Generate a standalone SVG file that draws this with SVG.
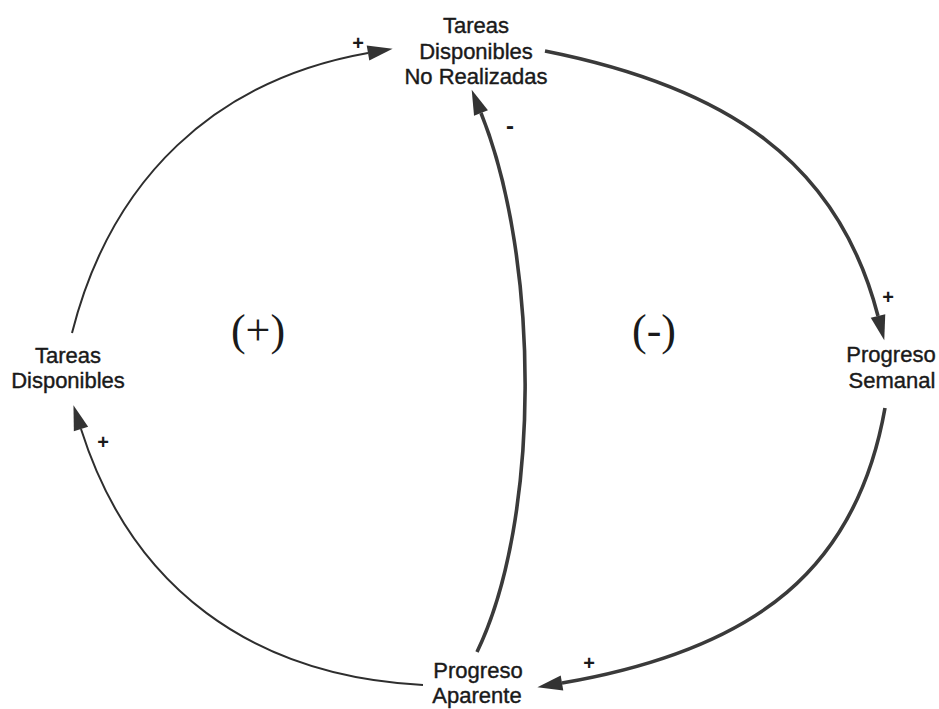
<svg xmlns="http://www.w3.org/2000/svg" width="939" height="709" viewBox="0 0 939 709">
<style>
.lbl{font-family:"Liberation Sans",Arial,sans-serif;font-size:22px;fill:#1a1a1a;stroke:#1a1a1a;stroke-width:0.4;text-anchor:middle}
.sgn{font-family:"Liberation Sans",Arial,sans-serif;font-size:20px;font-weight:bold;fill:#1a1a1a;text-anchor:middle}
.minus{font-family:"Liberation Sans",Arial,sans-serif;font-size:24px;font-weight:bold;fill:#1a1a1a;text-anchor:middle}
.loop{font-family:"Liberation Serif","Times New Roman",serif;font-size:44px;fill:#1a1a1a;text-anchor:middle}
.thin{fill:none;stroke:#2e2e2e;stroke-width:2;marker-end:url(#ah)}
.thick{fill:none;stroke:#3a3a3a;stroke-width:3.6;marker-end:url(#ah)}
</style>
<defs>
<marker id="ah" markerUnits="userSpaceOnUse" markerWidth="27" markerHeight="17" refX="0" refY="8" orient="auto" overflow="visible">
<path d="M0,0.5 L25,8 L0,15.5 z" fill="#333"/>
</marker>
</defs>
<rect width="939" height="709" fill="#ffffff"/>
<g id="connectors">
<path class="thin" d="M72,333 C111,179 215,80 368,53"/>
<path class="thick" d="M545,51 C726,87 838,161 878,316"/>
<path class="thick" d="M885,408 C857,567 759,649 562,683"/>
<path class="thin" d="M423,685 C251,676 131,587 81,429"/>
<path class="thick" d="M477,652 C541,520 540,260 481,113"/>
<text class="sgn" x="358" y="50">+</text>
<text class="sgn" x="888" y="304">+</text>
<text class="sgn" x="589" y="670">+</text>
<text class="sgn" x="103" y="449">+</text>
<text class="minus" x="510" y="134">-</text>
</g>
<g id="node-tareas-no-realizadas">
<text class="lbl" x="476" y="33">Tareas</text>
<text class="lbl" x="476" y="59">Disponibles</text>
<text class="lbl" x="476" y="84">No Realizadas</text>
</g>
<g id="node-tareas-disponibles">
<text class="lbl" x="68" y="363">Tareas</text>
<text class="lbl" x="68" y="388">Disponibles</text>
</g>
<g id="node-progreso-semanal">
<text class="lbl" x="891" y="362">Progreso</text>
<text class="lbl" x="892" y="388">Semanal</text>
</g>
<g id="node-progreso-aparente">
<text class="lbl" x="478" y="678">Progreso</text>
<text class="lbl" x="477" y="703">Aparente</text>
</g>
<g id="loop-labels">
<text class="loop" x="258" y="345">(+)</text>
<text class="loop" x="654" y="345">(-)</text>
</g>
</svg>
